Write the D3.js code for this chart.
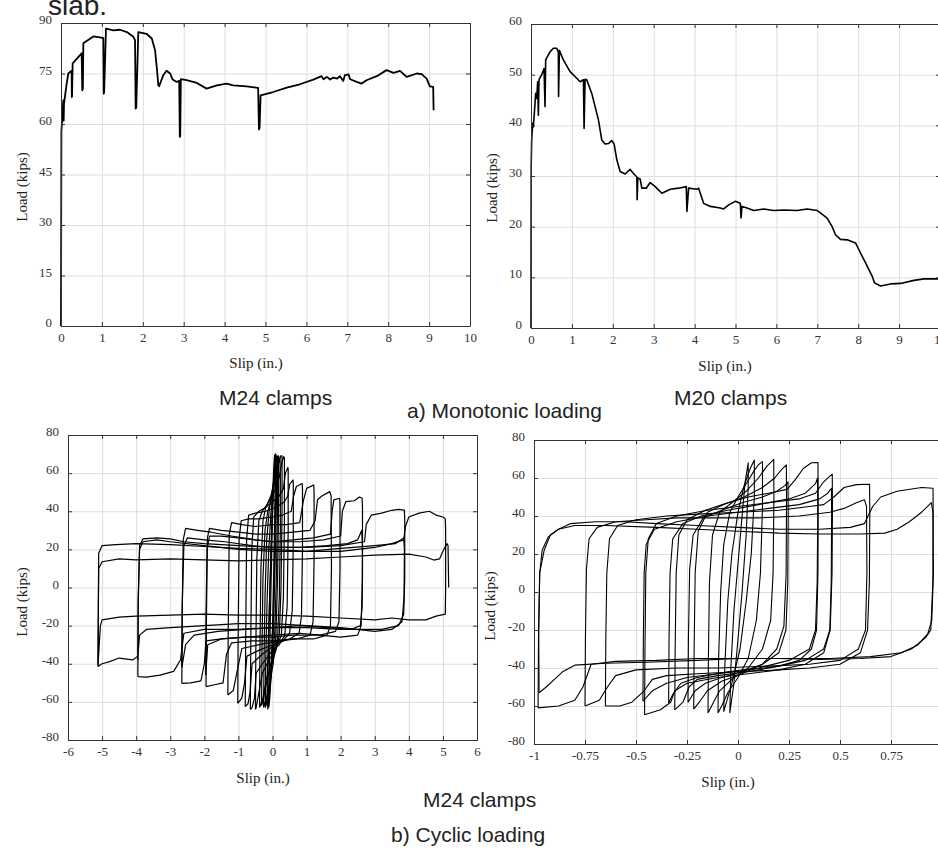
<!DOCTYPE html>
<html>
<head>
<meta charset="utf-8">
<script src="https://cdn.jsdelivr.net/npm/d3@7"></script>
<style>
  body { margin: 0; background: #fff; }
  svg { display: block; }
  .tick text { font-family: "Liberation Serif", "Times New Roman", serif; font-size: 13px; fill: #333; }
  .title { font-family: "Liberation Serif", "Times New Roman", serif; font-size: 15px; fill: #222; }
  .caption { font-family: "Liberation Sans", Arial, sans-serif; font-size: 21px; fill: #222; }
</style>
</head>
<body>
<svg></svg>
<script>
// ---- data ----
// a) monotonic, M24 clamps
var slipA = [0,0.005,0.01,0.016,0.057,0.065,0.073,0.139,0.179,0.26,0.265,0.27,0.285,0.505,0.52,0.535,0.546,0.79,0.954,1.035,1.045,1.055,1.10,1.28,1.44,1.61,1.77,1.81,1.825,1.84,1.89,2.09,2.22,2.30,2.34,2.38,2.40,2.50,2.58,2.67,2.73,2.83,2.89,2.905,2.915,2.93,3.07,3.32,3.56,3.81,4.05,4.21,4.54,4.82,4.84,4.855,4.88,5.19,5.52,5.84,6.17,6.37,6.42,6.50,6.58,6.66,6.75,6.82,6.90,6.94,7.03,7.07,7.23,7.35,7.47,7.72,7.96,8.13,8.29,8.45,8.70,8.82,8.94,9.02,9.10,9.11];
var loadA = [0,30,58,59,67,61,66,72,75,75.8,68,68.5,78,81,70,70.5,84,86,85.7,85.5,69,69.5,88.3,87.8,88,87.3,85.9,84.9,64.6,65,87.3,86.8,85.4,81.9,77,71.5,71.2,74.5,75.8,75,73.2,72.5,72.8,56.2,56.5,73.3,73,72.2,70.5,71.5,72,71.5,71.2,70.7,58.4,58.8,68.5,69.5,70.8,71.8,73.2,74.2,73.3,74,73.2,73.8,73.5,74.2,72.8,74.5,74.7,73.3,72.5,72,73,74.2,76,75.2,75.8,74,75,74.8,73.5,71.2,71,64.1];

// a) monotonic, M20 clamps
var slipB = [0,0.005,0.016,0.041,0.057,0.082,0.114,0.139,0.163,0.18,0.196,0.261,0.318,0.343,0.359,0.465,0.547,0.629,0.669,0.674,0.694,0.792,0.955,1.118,1.2,1.282,1.298,1.322,1.363,1.486,1.567,1.649,1.731,1.812,1.894,1.976,2.033,2.098,2.18,2.302,2.424,2.506,2.588,2.595,2.612,2.669,2.71,2.816,2.914,3.037,3.2,3.404,3.608,3.796,3.812,3.853,4.057,4.098,4.22,4.384,4.629,4.71,4.833,4.996,5.118,5.135,5.159,5.282,5.445,5.69,5.935,6.18,6.506,6.751,6.996,7.241,7.363,7.445,7.567,7.731,7.935,8.057,8.22,8.343,8.4,8.547,8.792,9.037,9.363,9.608,9.976];
var loadB = [0,31.9,37,40.4,39.7,42.4,46.3,45.3,48.6,42,49,50,51.2,43.7,52.9,54.5,55.2,55.2,54.5,45.7,54.8,52.9,50.6,49.3,48.6,49,39.4,49.1,49,46.3,43.7,41.1,37.1,36.3,36.4,37,36.3,33.2,30.9,30.4,31.3,30.5,29.8,25.3,29.6,29.4,27.6,27.6,28.7,27.9,26.6,27.4,27.6,27.9,23,27.6,27.4,27.6,24.6,24,23.7,23.5,24.3,25,24.6,21.7,24,23.7,23.2,23.5,23.2,23.3,23.2,23.5,23.2,21.7,20,18.4,17.5,17.4,16.8,14.8,12.2,10.2,8.9,8.3,8.7,8.8,9.4,9.7,9.7];

// b) cyclic, M24 clamps: one [slip, load] list per loop
var loopsC = [
  [[-0.11,-63],[-0.09,-40],[-0.05,-5],[-0.01,30],[0.03,55],[0.06,66],[0.08,70],[0.08,55],[0.05,20],[0.01,-15],[-0.04,-45],[-0.08,-58],[-0.11,-63]],
  [[-0.14,-64],[-0.13,-42],[-0.09,-10],[-0.04,22],[0,45],[0.03,60],[0.06,69],[0.1,70],[0.1,52],[0.06,18],[0.02,-15],[-0.04,-42],[-0.1,-58],[-0.14,-64]],
  [[-0.16,-62],[-0.15,-45],[-0.1,-15],[-0.05,15],[0,42],[0.05,60],[0.09,67],[0.12,69],[0.12,50],[0.08,15],[0.03,-20],[-0.03,-45],[-0.1,-58],[-0.16,-62]],
  [[-0.21,-63],[-0.2,-40],[-0.16,-8],[-0.11,20],[-0.05,38],[0.02,52],[0.08,63],[0.13,68],[0.15,69],[0.15,48],[0.12,10],[0.07,-22],[0,-38],[-0.08,-50],[-0.15,-58],[-0.21,-63]],
  [[-0.26,-63],[-0.25,-40],[-0.22,-5],[-0.17,25],[-0.1,40],[0,52],[0.08,62],[0.14,68],[0.18,69],[0.18,45],[0.15,5],[0.1,-25],[0.02,-40],[-0.08,-50],[-0.18,-58],[-0.26,-63]],
  [[-0.32,-62],[-0.31,-35],[-0.28,5],[-0.22,30],[-0.14,40],[-0.02,47],[0.08,56],[0.16,64],[0.22,68],[0.23,60],[0.23,30],[0.2,-5],[0.15,-26],[0.05,-36],[-0.08,-44],[-0.2,-52],[-0.27,-59],[-0.32,-62]],
  [[-0.38,-63],[-0.37,-35],[-0.34,10],[-0.28,35],[-0.2,42],[-0.05,48],[0.08,56],[0.18,66],[0.24,69],[0.28,69],[0.28,40],[0.25,0],[0.2,-25],[0.1,-33],[-0.05,-40],[-0.18,-48],[-0.28,-58],[-0.38,-63]],
  [[-0.5,-64],[-0.49,-35],[-0.46,15],[-0.4,35],[-0.3,40],[-0.1,45],[0.05,50],[0.2,58],[0.28,66],[0.33,68.6],[0.35,68],[0.35,35],[0.32,-5],[0.26,-25],[0.1,-32],[-0.1,-38],[-0.3,-45],[-0.4,-55],[-0.48,-63],[-0.5,-64]],
  [[-0.65,-64],[-0.64,-35],[-0.61,20],[-0.55,37],[-0.4,40],[-0.2,42],[0,45],[0.2,48],[0.32,52],[0.38,60],[0.45,63],[0.46,62],[0.46,30],[0.43,-10],[0.36,-25],[0.2,-30],[0,-33],[-0.3,-40],[-0.48,-45],[-0.53,-58],[-0.6,-63],[-0.65,-64]],
  [[-0.8,-62.5],[-0.79,-35],[-0.76,25],[-0.7,38],[-0.5,39],[-0.2,40],[0.1,42],[0.35,45],[0.45,48],[0.5,54],[0.6,56.4],[0.61,55],[0.61,25],[0.58,-12],[0.5,-24],[0.3,-28],[0,-31],[-0.3,-35],[-0.6,-40],[-0.66,-55],[-0.72,-61],[-0.8,-62.5]],
  [[-1.02,-60.8],[-1.01,-30],[-0.98,25],[-0.92,35],[-0.7,36],[-0.4,36],[0,37],[0.3,38],[0.55,40],[0.62,48],[0.7,53],[0.87,54.6],[0.88,52],[0.88,20],[0.85,-15],[0.78,-24],[0.5,-27],[0,-30],[-0.4,-33],[-0.75,-36],[-0.82,-50],[-0.9,-58],[-1.02,-60.8]],
  [[-1.31,-56.4],[-1.3,-25],[-1.27,28],[-1.2,34],[-0.9,33],[-0.5,32],[0,33],[0.4,33],[0.8,34],[0.9,45],[1.0,52],[1.21,53.8],[1.22,50],[1.22,15],[1.19,-18],[1.1,-25],[0.7,-27],[0.2,-28],[-0.4,-30],[-0.9,-32],[-1.05,-45],[-1.15,-54],[-1.31,-56.4]],
  [[-1.95,-52],[-1.94,-20],[-1.91,26],[-1.85,31],[-1.5,30],[-1,29],[-0.5,28],[0,28],[0.6,29],[1.1,30],[1.25,35],[1.32,46],[1.45,48],[1.68,50.3],[1.72,48],[1.72,44],[1.73,10],[1.7,-20],[1.6,-25],[1.2,-27],[0.6,-27],[0,-28],[-0.6,-28],[-1.2,-29],[-1.35,-35],[-1.45,-50],[-1.7,-51],[-1.95,-52]],
  [[-1.96,-46],[-1.95,-15],[-1.92,20],[-1.85,27],[-1.5,27],[-1,26],[-0.5,25],[0,24],[0.6,25],[1.2,26],[1.7,28],[1.75,40],[1.8,46],[1.97,46.8],[1.98,44],[1.98,10],[1.95,-18],[1.85,-23],[1.4,-25],[0.8,-24],[0,-25],[-0.8,-26],[-1.5,-27],[-1.9,-30],[-1.96,-46]],
  [[-2.66,-50.3],[-2.65,-15],[-2.62,25],[-2.55,31],[-2.2,30],[-1.8,29],[-1.2,27],[-0.5,25],[0,24],[0.8,24],[1.5,25],[2.0,27],[2.05,40],[2.15,45],[2.4,45.5],[2.55,47.5],[2.63,46.8],[2.64,42],[2.64,5],[2.6,-20],[2.5,-25],[2.0,-26],[1.4,-25],[0.6,-25],[0,-26],[-0.8,-26],[-1.5,-27],[-1.95,-28],[-2.0,-40],[-2.1,-49],[-2.4,-50],[-2.66,-50.3]],
  [[-2.66,-42],[-2.65,-10],[-2.6,22],[-2.5,26],[-2.0,25],[-1.4,24],[-0.6,22],[0,21],[0.8,21],[1.6,22],[2.2,23],[2.5,25],[2.62,30],[2.64,20],[2.63,-10],[2.58,-20],[2.3,-22],[1.6,-21],[0.8,-20],[0,-21],[-0.8,-22],[-1.6,-23],[-2.3,-25],[-2.55,-30],[-2.66,-42]],
  [[-3.95,-46.8],[-3.94,-10],[-3.9,22],[-3.8,25.5],[-3.4,26],[-3.0,25.5],[-2.6,24],[-2,23],[-1,22],[0,21],[1,21],[2,22],[2.7,24],[2.75,33],[2.9,38],[3.2,39],[3.5,40.5],[3.7,41],[3.87,40.6],[3.88,35],[3.88,5],[3.85,-14],[3.7,-20],[3.2,-22],[2.6,-22],[2,-22],[1,-21],[0,-21],[-1,-22],[-2,-22],[-2.6,-24],[-2.7,-38],[-2.9,-44],[-3.3,-46],[-3.7,-47],[-3.95,-46.8]],
  [[-3.95,-38],[-3.94,-5],[-3.9,20],[-3.8,24],[-3.4,25],[-3,24],[-2,22],[-1,20],[0,19],[1,19],[2,20.5],[3,22],[3.6,23],[3.85,26],[3.87,20],[3.86,-5],[3.8,-18],[3.5,-22],[3,-23],[2,-21],[1,-20],[0,-19],[-1,-19],[-2,-20],[-3,-21],[-3.7,-22],[-3.9,-25],[-3.95,-36],[-4.1,-38],[-4.5,-37],[-4.8,-39],[-5.0,-40],[-5.12,-41.5]],
  [[-5.12,-41.5],[-5.11,-10],[-5.1,18],[-5.0,22],[-4.6,22.5],[-4,23],[-3,22.5],[-2,21.5],[-1,20.5],[0,20],[1,19],[2,19],[3,21],[3.5,23],[3.85,25],[3.9,32],[4.0,37],[4.3,39],[4.6,40],[4.8,38],[5.0,37],[5.07,36],[5.08,30],[5.08,0],[5.07,-14],[4.8,-15],[4.5,-17],[4,-17],[3.5,-16],[3,-17],[2,-16],[1,-15],[0,-14.5],[-1,-14.5],[-2,-14],[-3,-14.5],[-4,-15],[-4.5,-15.5],[-5.0,-17],[-5.05,-20],[-5.1,-35],[-5.12,-41]],
  [[-5.12,-41],[-5.11,-15],[-5.1,10],[-5,13.5],[-4.5,15],[-4,14.5],[-3,15],[-2,14.5],[-1,14],[0,14.5],[1,15],[2,16],[3,17],[4,17.5],[4.5,16],[4.73,14.4],[4.9,15],[5.0,19],[5.12,23],[5.15,22],[5.16,10],[5.17,0]]
];

// b) cyclic, M20 clamps
var loopsD = [
  [[-0.04,-63.7],[-0.035,-40],[-0.02,-10],[0,15],[0.02,40],[0.035,58],[0.05,68],[0.05,55],[0.04,30],[0.02,0],[0,-25],[-0.02,-48],[-0.04,-63.7]],
  [[-0.07,-63],[-0.065,-40],[-0.05,-5],[-0.03,20],[0,42],[0.03,56],[0.06,65],[0.08,69.5],[0.08,50],[0.065,20],[0.04,-5],[0.01,-30],[-0.03,-48],[-0.07,-63]],
  [[-0.098,-63.7],[-0.095,-35],[-0.085,0],[-0.07,25],[-0.04,42],[0,50],[0.04,57],[0.08,64],[0.1,67],[0.12,68.6],[0.12,45],[0.11,10],[0.09,-15],[0.05,-35],[0,-45],[-0.05,-53],[-0.08,-60],[-0.098,-63.7]],
  [[-0.147,-63.7],[-0.145,-35],[-0.14,5],[-0.125,30],[-0.09,42],[-0.03,47],[0.04,53],[0.1,60],[0.14,66],[0.175,69.8],[0.176,50],[0.172,10],[0.16,-15],[0.12,-30],[0.05,-40],[-0.03,-46],[-0.09,-52],[-0.12,-58],[-0.147,-63.7]],
  [[-0.217,-61.6],[-0.215,-30],[-0.21,10],[-0.195,32],[-0.15,42],[-0.07,46],[0.03,50],[0.12,55],[0.18,60],[0.21,64],[0.237,66.9],[0.238,50],[0.236,10],[0.225,-18],[0.19,-30],[0.12,-38],[0.02,-43],[-0.08,-47],[-0.15,-52],[-0.19,-58],[-0.217,-61.6]],
  [[-0.245,-58],[-0.243,-25],[-0.237,12],[-0.22,30],[-0.17,39],[-0.08,43],[0.02,47],[0.12,50],[0.19,53],[0.23,56],[0.245,58],[0.246,40],[0.244,5],[0.235,-20],[0.2,-32],[0.12,-38],[0.02,-42],[-0.08,-45],[-0.16,-48],[-0.21,-52],[-0.245,-58]],
  [[-0.31,-62],[-0.308,-30],[-0.303,10],[-0.29,30],[-0.25,38],[-0.16,43],[-0.05,47],[0.05,50],[0.15,52],[0.24,54],[0.28,59],[0.32,65],[0.36,68],[0.392,68.1],[0.393,50],[0.392,10],[0.385,-20],[0.36,-30],[0.3,-36],[0.2,-39],[0.05,-42],[-0.1,-44],[-0.2,-46],[-0.24,-50],[-0.27,-58],[-0.31,-62]],
  [[-0.34,-58.4],[-0.338,-25],[-0.333,10],[-0.32,28],[-0.27,36],[-0.18,40],[-0.05,43],[0.1,46],[0.25,49],[0.33,52],[0.38,57],[0.39,60],[0.391,40],[0.388,5],[0.38,-20],[0.35,-30],[0.25,-36],[0.1,-40],[-0.05,-42],[-0.2,-45],[-0.28,-48],[-0.32,-54],[-0.34,-58.4]],
  [[-0.458,-64.6],[-0.456,-30],[-0.452,10],[-0.44,28],[-0.4,36],[-0.3,40],[-0.15,43],[0,45],[0.15,47],[0.3,49],[0.38,52],[0.42,58],[0.45,61],[0.462,62],[0.463,45],[0.461,10],[0.452,-20],[0.42,-32],[0.33,-38],[0.2,-41],[0.05,-43],[-0.1,-45],[-0.25,-48],[-0.31,-52],[-0.33,-58],[-0.38,-62],[-0.458,-64.6]],
  [[-0.466,-57.5],[-0.464,-25],[-0.46,10],[-0.45,25],[-0.41,33],[-0.3,37],[-0.15,40],[0,42],[0.15,44],[0.3,46],[0.4,49],[0.44,52],[0.458,54.6],[0.459,40],[0.457,5],[0.45,-20],[0.42,-30],[0.33,-36],[0.2,-39],[0.05,-41],[-0.1,-43],[-0.25,-45],[-0.35,-48],[-0.42,-52],[-0.466,-57.5]],
  [[-0.65,-60],[-0.648,-25],[-0.643,10],[-0.63,28],[-0.59,35],[-0.5,38],[-0.35,40],[-0.2,41],[0,42],[0.2,43],[0.35,45],[0.42,46],[0.47,50],[0.52,55],[0.58,56.5],[0.645,56.7],[0.646,40],[0.644,5],[0.635,-20],[0.6,-32],[0.5,-38],[0.35,-40],[0.2,-41],[0,-42],[-0.2,-43],[-0.35,-44],[-0.42,-46],[-0.46,-52],[-0.52,-58],[-0.58,-60],[-0.65,-60]],
  [[-0.75,-60],[-0.748,-25],[-0.743,12],[-0.73,28],[-0.69,34],[-0.6,37],[-0.45,38],[-0.3,39],[-0.1,39],[0.1,39],[0.3,40],[0.45,42],[0.52,44],[0.58,47],[0.62,48.5],[0.63,45],[0.632,10],[0.625,-20],[0.59,-30],[0.5,-36],[0.35,-38],[0.15,-39],[-0.1,-40],[-0.3,-40],[-0.5,-41],[-0.6,-44],[-0.64,-50],[-0.68,-57],[-0.75,-60]],
  [[-0.98,-61],[-0.978,-25],[-0.972,10],[-0.95,22],[-0.92,30],[-0.88,33],[-0.82,36],[-0.7,37],[-0.55,37],[-0.4,36],[-0.2,35],[0,34],[0.2,33],[0.4,33],[0.55,34],[0.62,36],[0.66,45],[0.7,50],[0.78,53],[0.9,55],[0.956,54.6],[0.957,40],[0.955,5],[0.945,-20],[0.92,-24],[0.85,-30],[0.75,-34],[0.6,-35],[0.4,-35.5],[0.2,-35],[0,-35],[-0.2,-35],[-0.4,-36],[-0.6,-36.5],[-0.72,-38],[-0.76,-50],[-0.8,-57],[-0.88,-60],[-0.98,-61]],
  [[-0.975,-53],[-0.977,-20],[-0.972,10],[-0.96,22],[-0.93,29],[-0.88,33],[-0.8,35],[-0.65,35],[-0.4,34],[-0.2,33],[0,32],[0.2,31],[0.4,30.5],[0.6,30.5],[0.72,31],[0.78,33],[0.84,37],[0.9,42],[0.948,47],[0.955,42],[0.958,10],[0.95,-15],[0.93,-22],[0.88,-28],[0.8,-32],[0.65,-34],[0.45,-35],[0.2,-35],[0,-35],[-0.2,-36],[-0.45,-37],[-0.65,-37.5],[-0.8,-38.5],[-0.86,-42],[-0.9,-46],[-0.94,-50],[-0.975,-53]]
];

// tick values and labels
var ticksMonoX = [0,1,2,3,4,5,6,7,8,9,10];
var ticksA_Y = [0,15,30,45,60,75,90];
var ticksB_Y = [0,10,20,30,40,50,60];
var ticksC_X = [-6,-5,-4,-3,-2,-1,0,1,2,3,4,5,6];
var ticksCyclicY = [-80,-60,-40,-20,0,20,40,60,80];
var ticksD_X = [-1,-0.75,-0.5,-0.25,0,0.25,0.5,0.75];

var width = 938;
var height = 848;
var svg = d3.select("svg")
    .attr("width", width)
    .attr("height", height);

function drawPanel(p) {
  var x = d3.scaleLinear().domain(p.xDomain).range([0, p.w]);
  var y = d3.scaleLinear().domain(p.yDomain).range([p.h, 0]);
  var g = svg.append("g")
      .attr("transform", `translate(${p.left}, ${p.top})`);

  // light grid
  g.append("g")
      .attr("class", "grid")
      .attr("transform", `translate(0, ${p.h})`)
      .call(d3.axisBottom(x).tickValues(p.xTicks).tickSize(-p.h).tickFormat(""));
  g.append("g")
      .attr("class", "grid")
      .call(d3.axisLeft(y).tickValues(p.yTicks).tickSize(-p.w).tickFormat(""));
  g.selectAll(".grid path").remove();

  // curves
  var line = d3.line().x(d => x(d[0])).y(d => y(d[1]));
  g.selectAll("path.curve")
    .data(p.series)
    .enter()
    .append("path")
      .classed("curve", true)
      .attr("d", line)
      .attr("fill", "none")
      .attr("stroke", "#000")
      .attr("stroke-width", p.lineWidth)
      .attr("stroke-linejoin", "round");

  // frame with inward ticks on every side; plain hyphen for negatives
  var plain = d => String(d);
  g.append("g")
      .attr("transform", `translate(0, ${p.h})`)
      .call(d3.axisBottom(x).tickValues(p.xTicks).tickFormat(plain).tickSize(-4).tickSizeOuter(0).tickPadding(7));
  g.append("g")
      .attr("class", "yaxis")
      .call(d3.axisLeft(y).tickValues(p.yTicks).tickFormat(plain).tickSize(-4).tickSizeOuter(0).tickPadding(9));
  g.selectAll(".yaxis text").attr("dy", "0.05em");
  g.append("g")
      .call(d3.axisTop(x).tickValues(p.xTicks).tickFormat("").tickSize(-4).tickSizeOuter(0));
  g.append("g")
      .attr("transform", `translate(${p.w}, 0)`)
      .call(d3.axisRight(y).tickValues(p.yTicks).tickFormat("").tickSize(-4).tickSizeOuter(0));
  g.selectAll(".domain, .tick line").attr("stroke", "#333");
  g.selectAll(".grid line").attr("stroke", "#dedede");

  // axis titles
  svg.append("text")
      .classed("title", true)
      .attr("x", p.xTitle[0])
      .attr("y", p.xTitle[1])
      .style("text-anchor", "middle")
      .text("Slip (in.)");
  svg.append("text")
      .classed("title", true)
      .attr("transform", `translate(${p.yTitle[0]}, ${p.yTitle[1]}) rotate(-90)`)
      .style("text-anchor", "middle")
      .text("Load (kips)");
}

drawPanel({
  left: 61, top: 23, w: 409, h: 303,
  xDomain: [0, 10], yDomain: [0, 90],
  xTicks: ticksMonoX, yTicks: ticksA_Y,
  series: [slipA.map((s, i) => [s, loadA[i]])],
  lineWidth: 1.8,
  xTitle: [256, 368], yTitle: [27, 187]
});

drawPanel({
  left: 531, top: 24, w: 409, h: 304,
  xDomain: [0, 10], yDomain: [0, 60],
  xTicks: ticksMonoX, yTicks: ticksB_Y,
  series: [slipB.map((s, i) => [s, loadB[i]])],
  lineWidth: 1.6,
  xTitle: [725, 371], yTitle: [497, 188]
});

drawPanel({
  left: 68, top: 435, w: 409, h: 305,
  xDomain: [-6, 6], yDomain: [-80, 80],
  xTicks: ticksC_X, yTicks: ticksCyclicY,
  series: loopsC,
  lineWidth: 1.2,
  xTitle: [263, 783], yTitle: [27, 602]
});

drawPanel({
  left: 534, top: 440, w: 408, h: 304,
  xDomain: [-1, 1], yDomain: [-80, 80],
  xTicks: ticksD_X, yTicks: ticksCyclicY,
  series: loopsD,
  lineWidth: 1.1,
  xTitle: [728, 787], yTitle: [495, 606]
});

// captions
svg.append("text").classed("caption", true).attr("x", 48).attr("y", 15).style("font-size", "28px").text("slab.");
svg.append("text").classed("caption", true).attr("x", 219).attr("y", 405).text("M24 clamps");
svg.append("text").classed("caption", true).attr("x", 407).attr("y", 418).text("a) Monotonic loading");
svg.append("text").classed("caption", true).attr("x", 674).attr("y", 405).text("M20 clamps");
svg.append("text").classed("caption", true).attr("x", 423).attr("y", 807).text("M24 clamps");
svg.append("text").classed("caption", true).attr("x", 391).attr("y", 842).text("b) Cyclic loading");
</script>
</body>
</html>
